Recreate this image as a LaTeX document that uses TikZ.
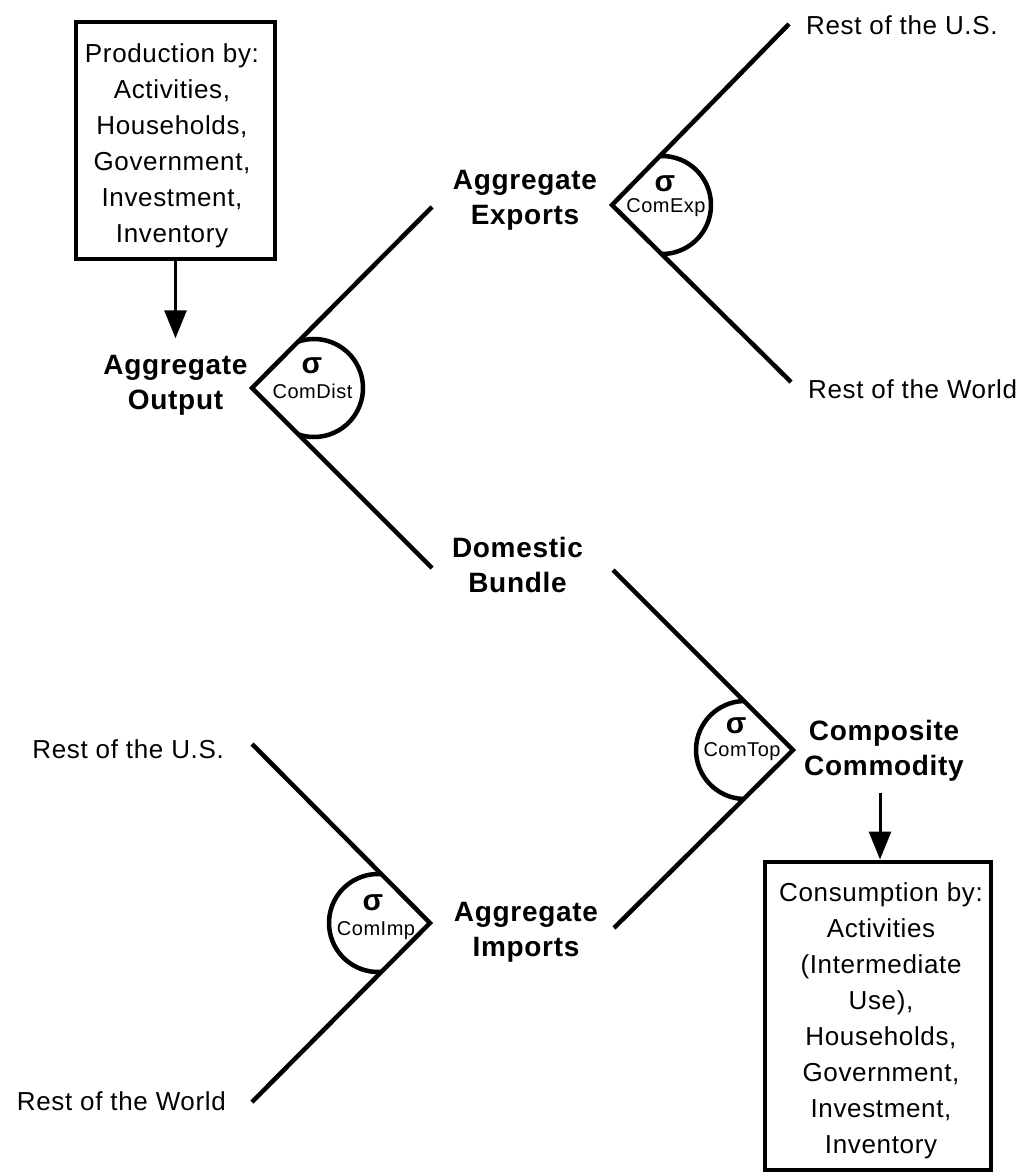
\documentclass[tikz,border=0pt]{standalone}
\usepackage{fontspec}
\setmainfont{Liberation Sans}[LetterSpace=2.5]
\usetikzlibrary{arrows.meta}
\begin{document}
\begin{tikzpicture}[x=1pt,y=-1pt,
  conn/.style={line width=4.5pt},
  arcline/.style={line width=4.5pt},
  arr/.style={line width=3pt,-{Triangle[width=22pt,length=28pt]}},
  box/.style={draw,line width=4pt,inner sep=0pt},
  boxtext/.style={font=\fontsize{26}{36}\selectfont,align=center,inner sep=0pt},
  place/.style={font=\fontsize{26}{36}\selectfont,inner sep=0pt},
  level/.style={font=\fontsize{28}{35}\bfseries\selectfont,align=center,inner sep=0pt},
  sig/.style={font=\fontsize{30}{30}\bfseries\selectfont,inner sep=0pt,anchor=base},
  sub/.style={font=\fontsize{20}{20}\selectfont,inner sep=0pt,anchor=base}]
\useasboundingbox (0,0) rectangle (1026,1174);

% producer and consumer boxes
\node[box,minimum width=199pt,minimum height=237pt] (prod) at (175.5,140.5) {};
\node[boxtext] (prodtext) at (172,146)
  {Production by:\\Activities,\\Households,\\Government,\\Investment,\\Inventory};
\node[box,minimum width=225.5pt,minimum height=308.5pt] (cons) at (877.75,1015.75) {};
\node[boxtext] (constext) at (881,1020.5)
  {Consumption by:\\Activities\\(Intermediate\\Use),\\Households,\\Government,\\Investment,\\Inventory};

% aggregate levels
\node[level] (aggout) at (175.5,385.5) {Aggregate\\Output};
\node[level] (aggexp) at (525,200) {Aggregate\\Exports};
\node[level] (dom) at (517.5,564.5) {Domestic\\Bundle};
\node[level] (comp) at (884,750.5) {Composite\\Commodity};
\node[level] (aggimp) at (526,932.5) {Aggregate\\Imports};

% trading partners
\node[place,anchor=base west] (usE) at (806,35) {Rest of the U.S.};
\node[place,anchor=base west] (rowE) at (808,398) {Rest of the World};
\node[place,anchor=base east] (usI) at (224,758) {Rest of the U.S.};
\node[place,anchor=base east] (rowI) at (226,1110) {Rest of the World};

% branch points and branch ends
\coordinate (vDist) at (252,388);
\coordinate (dUp) at (432,207);
\coordinate (dDown) at (432,568);
\coordinate (vExp) at (612,205);
\coordinate (eUp) at (789,24);
\coordinate (eDown) at (791,382);
\coordinate (vTop) at (793,750);
\coordinate (tUp) at (613,570);
\coordinate (tDown) at (614,928);
\coordinate (vImp) at (430,923);
\coordinate (iUp) at (252,744);
\coordinate (iDown) at (252,1102);

% arc centres
\coordinate (cDist) at (314,388);
\coordinate (cExp) at (662,205);
\coordinate (cTop) at (745,750);
\coordinate (cImp) at (378,923);

% nesting branches
\draw[conn] (dUp) -- (vDist) -- (dDown);
\draw[conn] (eUp) -- (vExp) -- (eDown);
\draw[conn] (tUp) -- (vTop) -- (tDown);
\draw[conn] (iUp) -- (vImp) -- (iDown);

% substitution elasticity arcs
\draw[arcline] (cDist) ++(-108.4:49) arc[start angle=-108.4,end angle=108.4,radius=49];
\draw[arcline] (cExp) ++(-91.2:49) arc[start angle=-91.2,end angle=91.2,radius=49];
\draw[arcline] (cTop) ++(91.2:49) arc[start angle=91.2,end angle=268.8,radius=49];
\draw[arcline] (cImp) ++(86.4:49) arc[start angle=86.4,end angle=273.6,radius=49];

% elasticity labels
\node[sig] (sDist) at (312,373) {σ};
\node[sub] (lDist) at (312.5,398) {ComDist};
\node[sig] (sExp) at (665,192) {σ};
\node[sub] (lExp) at (666,213) {ComExp};
\node[sig] (sTop) at (736,733) {σ};
\node[sub] (lTop) at (742,756) {ComTop};
\node[sig] (sImp) at (373,910) {σ};
\node[sub] (lImp) at (376,935) {ComImp};

% flows into and out of the nest
\draw[arr,shorten >=17pt] (prod.south) -- (aggout.north);
\draw[arr,shorten <=12pt] ([xshift=-4pt]comp.south) -- ([xshift=-4pt]comp.south |- cons.north);
\end{tikzpicture}
\end{document}
